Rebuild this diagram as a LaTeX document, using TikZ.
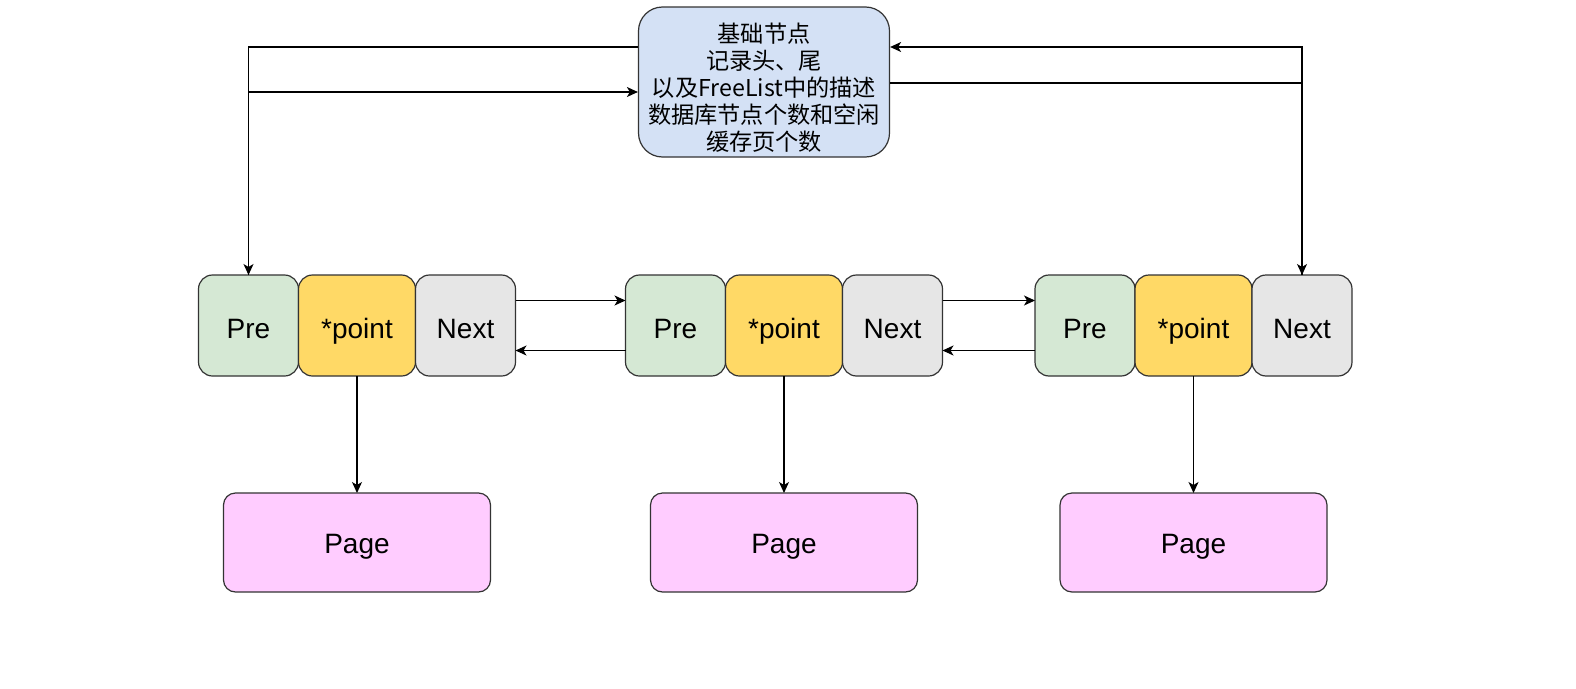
\documentclass[tikz,border=0pt]{standalone}
\usepackage{fontspec}
\setmainfont{Liberation Sans}
\newfontfamily\cjk{Noto Sans CJK SC}
\usepackage{xcolor}
\usetikzlibrary{arrows.meta}
\usetikzlibrary{positioning}

\definecolor{preGreen}{HTML}{D5E8D4}
\definecolor{pointYellow}{HTML}{FFD966}
\definecolor{nextGray}{HTML}{E6E6E6}
\definecolor{pagePink}{HTML}{FFCCFF}
\definecolor{baseBlue}{HTML}{D4E1F5}
\definecolor{edgeGray}{HTML}{333333}

\begin{document}
\begin{tikzpicture}[x=1pt, y=-1pt,
    >={Stealth[length=11pt,width=10pt,inset=3pt]},
    cell/.style = {rectangle, rounded corners=14pt, draw=edgeGray, line width=1.2pt,
                   minimum height=101pt, outer sep=0pt, text=black,
                   text height=25pt, text depth=0pt,
                   font=\fontsize{28}{33}\selectfont},
    prebox/.style = {cell, minimum width=100pt, fill=preGreen},
    pointbox/.style = {cell, minimum width=117pt, fill=pointYellow},
    nextbox/.style = {cell, minimum width=100pt, fill=nextGray},
    pagebox/.style = {cell, rounded corners=12pt, minimum width=267pt,
                      minimum height=99pt, text height=22pt, fill=pagePink},
    basebox/.style = {rectangle, rounded corners=24pt, draw=edgeGray, line width=1.2pt,
                      minimum width=251pt, minimum height=150pt, fill=baseBlue,
                      align=center, font=\cjk\fontsize{23.2}{27}\selectfont},
    link/.style = {->, line width=1.2pt, black}]
  \useasboundingbox (0,0) rectangle (1576,688);

  % base node on top
  \node (base) [basebox] at (764,82)
    {\rule{0pt}{30pt}基础节点\\记录头、尾\\以及FreeList中的描述\\数据库节点个数和空闲\\缓存页个数};

  % the three list nodes
  \node (pre1) [prebox] at (248.5,325.5) {Pre};
  \node (pt1) [pointbox, right=0pt of pre1] {*point};
  \node (nx1) [nextbox, right=0pt of pt1] {Next};

  \node (pre2) [prebox] at (675.5,325.5) {Pre};
  \node (pt2) [pointbox, right=0pt of pre2] {*point};
  \node (nx2) [nextbox, right=0pt of pt2] {Next};

  \node (pre3) [prebox] at (1085,325.5) {Pre};
  \node (pt3) [pointbox, right=0pt of pre3] {*point};
  \node (nx3) [nextbox, right=0pt of pt3] {Next};

  % pages
  \node (page1) [pagebox, below=117pt of pt1] {Page};
  \node (page2) [pagebox, below=117pt of pt2] {Page};
  \node (page3) [pagebox, below=117pt of pt3] {Page};

  % head and tail
  \draw[link] ([yshift=35pt]base.west) -| (pre1.north);
  \draw[link] (pre1.north) |- ([yshift=-10pt]base.west);
  \draw[link] ([yshift=-1pt]base.east) -| (nx3.north);
  \draw[link] (nx3.north) |- ([yshift=35pt]base.east);

  % next / pre
  \draw[link] ([yshift=25pt]nx1.east) -- ([yshift=25pt]pre2.west);
  \draw[link] ([yshift=-25pt]pre2.west) -- ([yshift=-25pt]nx1.east);
  \draw[link] ([yshift=25pt]nx2.east) -- ([yshift=25pt]pre3.west);
  \draw[link] ([yshift=-25pt]pre3.west) -- ([yshift=-25pt]nx2.east);

  % point to page
  \draw[link] (pt1) -- (page1);
  \draw[link] (pt2) -- (page2);
  \draw[link] (pt3) -- (page3);
\end{tikzpicture}
\end{document}
